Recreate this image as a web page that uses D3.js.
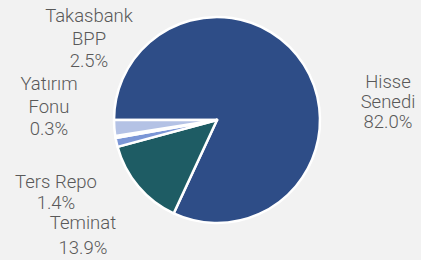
<!DOCTYPE html>
<html>
<head>
<meta charset="utf-8">
<script src="https://cdn.jsdelivr.net/npm/d3@7/dist/d3.min.js"></script>
<style>
  html, body { margin: 0; padding: 0; background: #F2F2F2; }
  svg { display: block; }
</style>
</head>
<body>
<svg id="chart" width="421" height="260"></svg>
<script>
const categories = ["Hisse Senedi", "Teminat", "Ters Repo", "Yatırım Fonu", "Takasbank BPP"];
const values = [82.0, 13.9, 1.4, 0.3, 2.5];
const labelLines = [["Hisse", "Senedi", "82.0%"], ["Teminat", "13.9%"], ["Ters Repo", "1.4%"], ["Yatırım", "Fonu", "0.3%"], ["Takasbank", "BPP", "2.5%"]];
const colors = ["#2E4D87", "#1E5C64", "#7B96D6", "#4A6CB8", "#B4C2E5"];

const W = 421, H = 260;
const cx = 217, cy = 120, R = 103;
const svg = d3.select("#chart");
svg.append("rect").attr("width", W).attr("height", H).attr("fill", "#F2F2F2");

const data = categories.map((c, i) => ({ name: c, value: values[i], lines: labelLines[i], color: colors[i] }));
const pie = d3.pie().value(d => d.value).sort(null)
  .startAngle(-Math.PI / 2).endAngle(-Math.PI / 2 + 2 * Math.PI);
const arc = d3.arc().innerRadius(0).outerRadius(R);

const g = svg.append("g").attr("transform", `translate(${cx},${cy})`);
g.selectAll("path").data(pie(data)).enter().append("path")
  .attr("d", arc)
  .attr("fill", d => d.data.color)
  .attr("stroke", "#FFFFFF")
  .attr("stroke-width", 2.5)
  .attr("stroke-linejoin", "round");

// label anchor positions (centre x, first baseline y) — layout only
const labelPos = [[388, 88], [83, 229], [56, 188], [49, 90], [89, 22]];
const lineH = [20, 24.5, 21, 22.5, 22.5];
const lg = svg.append("g");
data.forEach((d, i) => {
  const t = lg.append("text")
    .attr("x", labelPos[i][0]).attr("y", labelPos[i][1])
    .attr("text-anchor", "middle")
    .attr("font-family", "Roboto, 'Liberation Sans', Arial, sans-serif")
    .attr("font-weight", 300)
    .attr("font-size", 18.5)
    .attr("fill", "#595959");
  d.lines.forEach((ln, k) => {
    t.append("tspan").attr("x", labelPos[i][0]).attr("dy", k === 0 ? 0 : lineH[i]).text(ln);
  });
});
</script>
</body>
</html>
